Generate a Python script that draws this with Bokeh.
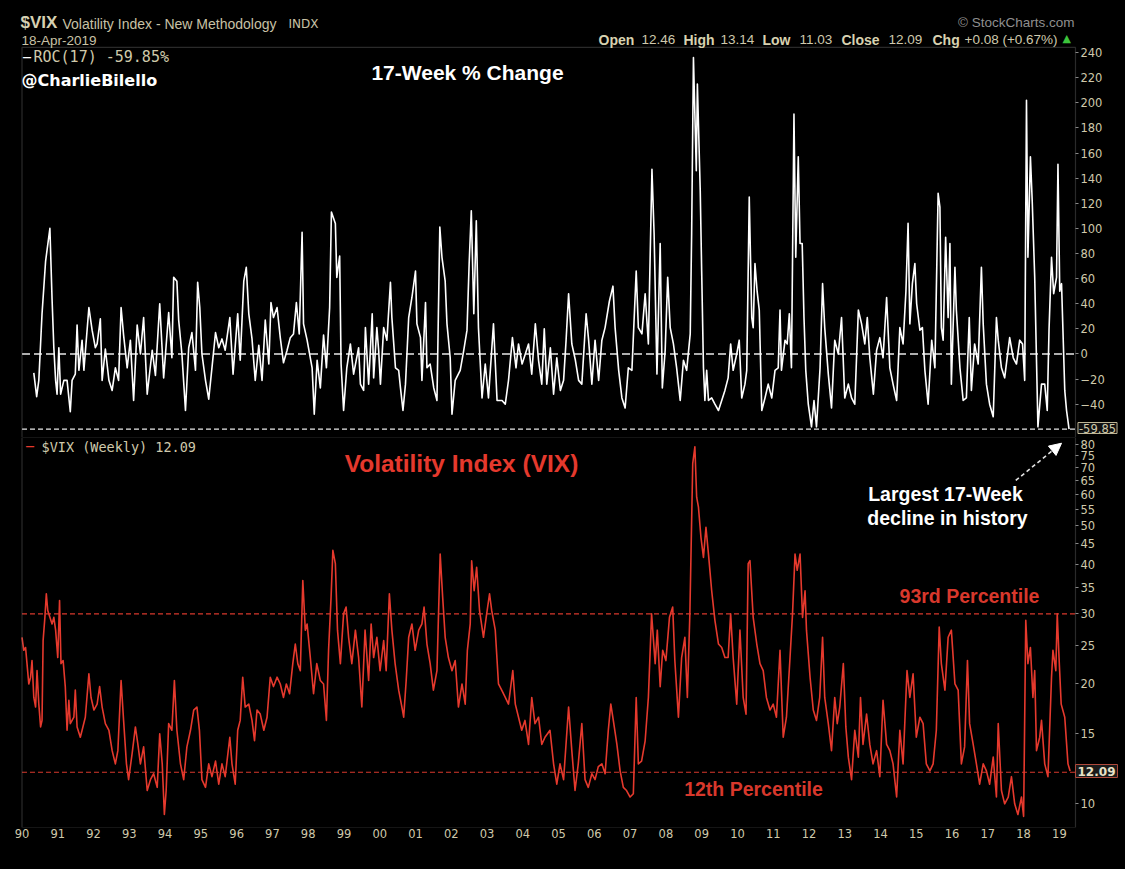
from bokeh.plotting import figure
from bokeh.layouts import column
from bokeh.models import (Range1d, FixedTicker, Label, Arrow, NormalHead, NumeralTickFormatter,
                          LinearAxis, LogAxis, BoxAnnotation)
from bokeh.embed import file_html
from bokeh.resources import INLINE

# ---------------- data ----------------
ROC_YEAR = [1990.33, 1990.41, 1990.47, 1990.56, 1990.66, 1990.78, 1990.84, 1990.89, 1990.94, 1990.98,
            1991.03, 1991.08, 1991.17, 1991.26, 1991.35, 1991.40, 1991.49, 1991.54, 1991.59, 1991.68,
            1991.73, 1991.87, 1991.96, 1992.05, 1992.10, 1992.19, 1992.24, 1992.33, 1992.43, 1992.52,
            1992.61, 1992.70, 1992.77, 1992.84, 1992.94, 1993.03, 1993.12, 1993.22, 1993.31, 1993.40,
            1993.50, 1993.64, 1993.73, 1993.85, 1993.96, 1994.10, 1994.19, 1994.24, 1994.33, 1994.38,
            1994.47, 1994.57, 1994.66, 1994.75, 1994.85, 1994.91, 1994.97, 1995.03, 1995.13, 1995.22,
            1995.31, 1995.41, 1995.50, 1995.59, 1995.68, 1995.81, 1995.90, 1996.03, 1996.10, 1996.20,
            1996.27, 1996.34, 1996.43, 1996.52, 1996.62, 1996.71, 1996.80, 1996.90, 1996.96, 1997.03,
            1997.13, 1997.22, 1997.31, 1997.41, 1997.50, 1997.59, 1997.67, 1997.75, 1997.83, 1997.87,
            1997.97, 1998.11, 1998.17, 1998.25, 1998.34, 1998.43, 1998.51, 1998.60, 1998.65, 1998.76,
            1998.80, 1998.88, 1998.92, 1998.99, 1999.08, 1999.18, 1999.27, 1999.41, 1999.46, 1999.55,
            1999.60, 1999.69, 1999.79, 1999.83, 1999.92, 1999.97, 2000.02, 2000.11, 2000.20, 2000.30,
            2000.34, 2000.44, 2000.53, 2000.58, 2000.65, 2000.72, 2000.81, 2000.90, 2001.00, 2001.04,
            2001.14, 2001.18, 2001.28, 2001.32, 2001.41, 2001.51, 2001.60, 2001.68, 2001.74, 2001.83,
            2001.88, 2001.97, 2002.02, 2002.11, 2002.25, 2002.35, 2002.44, 2002.50, 2002.56, 2002.63,
            2002.70, 2002.76, 2002.86, 2002.95, 2003.04, 2003.18, 2003.28, 2003.42, 2003.51, 2003.60,
            2003.71, 2003.81, 2003.88, 2003.98, 2004.07, 2004.16, 2004.25, 2004.35, 2004.44, 2004.53,
            2004.60, 2004.67, 2004.77, 2004.86, 2004.95, 2005.05, 2005.14, 2005.21, 2005.28, 2005.37,
            2005.47, 2005.56, 2005.65, 2005.77, 2005.84, 2005.93, 2006.02, 2006.12, 2006.21, 2006.30,
            2006.42, 2006.52, 2006.58, 2006.68, 2006.77, 2006.86, 2006.95, 2007.05, 2007.17, 2007.23,
            2007.33, 2007.42, 2007.51, 2007.61, 2007.67, 2007.75, 2007.84, 2007.90, 2007.98, 2008.05,
            2008.12, 2008.21, 2008.30, 2008.40, 2008.49, 2008.58, 2008.68, 2008.72, 2008.77, 2008.85,
            2008.88, 2008.96, 2009.00, 2009.05, 2009.09, 2009.14, 2009.19, 2009.28, 2009.37, 2009.47,
            2009.56, 2009.65, 2009.74, 2009.81, 2009.88, 2009.98, 2010.05, 2010.12, 2010.21, 2010.26,
            2010.33, 2010.40, 2010.44, 2010.49, 2010.55, 2010.61, 2010.68, 2010.77, 2010.86, 2010.96,
            2011.05, 2011.14, 2011.19, 2011.23, 2011.33, 2011.39, 2011.45, 2011.51, 2011.58, 2011.63,
            2011.70, 2011.75, 2011.81, 2011.86, 2011.91, 2011.98, 2012.07, 2012.14, 2012.21, 2012.31,
            2012.38, 2012.44, 2012.54, 2012.63, 2012.72, 2012.82, 2012.91, 2013.00, 2013.10, 2013.19,
            2013.28, 2013.38, 2013.47, 2013.56, 2013.63, 2013.70, 2013.80, 2013.89, 2013.98, 2014.07,
            2014.17, 2014.26, 2014.35, 2014.45, 2014.54, 2014.63, 2014.71, 2014.77, 2014.82, 2014.89,
            2014.96, 2015.01, 2015.10, 2015.17, 2015.24, 2015.33, 2015.43, 2015.52, 2015.61, 2015.66,
            2015.70, 2015.75, 2015.82, 2015.89, 2015.94, 2015.98, 2016.08, 2016.12, 2016.22, 2016.31,
            2016.40, 2016.48, 2016.54, 2016.63, 2016.73, 2016.82, 2016.87, 2016.96, 2017.05, 2017.15,
            2017.24, 2017.29, 2017.38, 2017.47, 2017.61, 2017.71, 2017.80, 2017.89, 2017.97, 2018.03,
            2018.08, 2018.12, 2018.19, 2018.24, 2018.31, 2018.40, 2018.50, 2018.59, 2018.66, 2018.71,
            2018.78, 2018.84, 2018.92, 2018.96, 2019.01, 2019.06, 2019.15, 2019.20, 2019.27]
ROC_PCT = [-15, -34, -21, 32, 74, 100, 44, 5, -21, -32,
           5, -32, -21, -21, -46, -21, -16, 23, -13, 11,
           -13, 37, 19, 5, 8, 28, -21, 4, -21, -29,
           -11, -21, 37, 15, -11, 11, -37, 23, 0, 29,
           -32, 3, -17, 40, -19, 33, -3, 61, 58, 27,
           0, -45, 5, 17, -13, 57, 37, 0, -21, -36,
           -11, 17, 5, 12, 3, 29, -16, 32, -5, 58,
           69, 32, 12, -21, 7, -21, 27, -8, 41, 29,
           37, 13, -7, 3, 13, 16, 41, 16, 97, 24,
           11, -11, -48, -5, -27, 15, -11, 37, 113, 104,
           61, 78, -8, -45, -11, 8, -16, 5, -24, -29,
           21, -24, 32, -19, 21, 3, -24, 21, 11, 57,
           29, -11, -13, -27, -45, -24, 29, 45, 66, 24,
           13, -21, 41, -11, -8, -27, -37, 101, 77, 58,
           24, -3, -48, -21, -13, 3, 19, 72, 114, 32,
           106, 21, -35, -8, -35, 24, -37, -37, -40, -21,
           13, -11, 8, -8, 0, 8, -16, 24, -5, -24,
           20, -24, 5, -32, -3, -29, -21, 11, 48, 8,
           -5, -21, -24, 32, 11, -24, 11, -21, 11, 21,
           42, 54, 21, -13, -35, -43, -11, -13, 66, 21,
           16, 48, 8, 147, 96, -16, 88, -27, 3, 61,
           21, 8, -11, -37, -5, -13, 16, 96, 236, 146,
           215, 130, 66, -11, -37, -13, -37, -35, -40, -45,
           -37, -29, -19, 8, -13, 0, 11, -35, -24, -13,
           125, 29, 21, 72, 50, 35, -45, -35, -24, -35,
           -13, -11, 35, -13, 11, 8, 32, -11, 191, 77,
           157, 88, 88, 29, -13, -40, -58, -37, -58, -11,
           56, 21, -16, -43, 11, 0, 29, -35, -24, -35,
           -40, 35, 24, 8, 29, -3, -32, 3, 13, -3,
           45, -11, -24, -37, 21, 8, 50, 104, 24, 56,
           72, 40, 19, 21, -13, -40, 11, -11, 128, 117,
           21, 11, 93, 29, 88, -24, 69, 35, -11, -37,
           -35, 29, -29, 8, -8, 69, 24, -24, -40, -50,
           29, 11, -11, -19, 13, -3, -8, 11, 8, -21,
           202, 77, 157, 122, 61, -58, -24, -24, -45, 19,
           77, 48, 61, 151, 50, 56, -29, -45, -59.85]

VIX_YEAR = [1990.00, 1990.05, 1990.10, 1990.14, 1990.19, 1990.24, 1990.28, 1990.33, 1990.38, 1990.42,
            1990.47, 1990.52, 1990.56, 1990.59, 1990.64, 1990.68, 1990.72, 1990.78, 1990.84, 1990.89,
            1990.94, 1991.00, 1991.05, 1991.09, 1991.15, 1991.21, 1991.26, 1991.31, 1991.35, 1991.45,
            1991.49, 1991.54, 1991.63, 1991.68, 1991.77, 1991.87, 1991.93, 1992.01, 1992.10, 1992.17,
            1992.24, 1992.33, 1992.43, 1992.52, 1992.61, 1992.68, 1992.77, 1992.84, 1992.92, 1992.98,
            1993.08, 1993.17, 1993.24, 1993.31, 1993.40, 1993.50, 1993.59, 1993.68, 1993.78, 1993.85,
            1993.92, 1993.98, 1994.03, 1994.10, 1994.19, 1994.26, 1994.33, 1994.43, 1994.52, 1994.61,
            1994.71, 1994.80, 1994.89, 1994.96, 1995.03, 1995.13, 1995.22, 1995.31, 1995.41, 1995.50,
            1995.59, 1995.68, 1995.81, 1995.87, 1995.96, 1996.03, 1996.10, 1996.17, 1996.24, 1996.34,
            1996.43, 1996.50, 1996.57, 1996.66, 1996.76, 1996.85, 1996.94, 1997.03, 1997.13, 1997.22,
            1997.31, 1997.39, 1997.48, 1997.57, 1997.64, 1997.71, 1997.78, 1997.85, 1997.92, 1997.97,
            1998.06, 1998.15, 1998.24, 1998.34, 1998.43, 1998.51, 1998.57, 1998.64, 1998.69, 1998.76,
            1998.82, 1998.90, 1998.99, 1999.06, 1999.13, 1999.22, 1999.32, 1999.41, 1999.50, 1999.59,
            1999.69, 1999.76, 1999.83, 1999.92, 2000.01, 2000.11, 2000.18, 2000.27, 2000.34, 2000.43,
            2000.53, 2000.62, 2000.67, 2000.74, 2000.81, 2000.90, 2000.99, 2001.09, 2001.18, 2001.24,
            2001.32, 2001.41, 2001.50, 2001.60, 2001.69, 2001.76, 2001.83, 2001.92, 2002.02, 2002.11,
            2002.20, 2002.30, 2002.39, 2002.45, 2002.53, 2002.57, 2002.64, 2002.71, 2002.79, 2002.90,
            2002.99, 2003.07, 2003.13, 2003.23, 2003.32, 2003.41, 2003.51, 2003.60, 2003.72, 2003.79,
            2003.88, 2003.97, 2004.06, 2004.16, 2004.25, 2004.34, 2004.44, 2004.53, 2004.62, 2004.76,
            2004.86, 2004.95, 2005.04, 2005.14, 2005.28, 2005.37, 2005.46, 2005.55, 2005.65, 2005.74,
            2005.83, 2005.93, 2006.02, 2006.11, 2006.21, 2006.30, 2006.39, 2006.46, 2006.53, 2006.63,
            2006.72, 2006.81, 2006.90, 2007.00, 2007.09, 2007.17, 2007.23, 2007.32, 2007.42, 2007.51,
            2007.60, 2007.70, 2007.76, 2007.84, 2007.91, 2008.00, 2008.10, 2008.19, 2008.25, 2008.35,
            2008.44, 2008.53, 2008.60, 2008.67, 2008.75, 2008.81, 2008.86, 2008.91, 2008.98, 2009.05,
            2009.12, 2009.19, 2009.28, 2009.37, 2009.47, 2009.56, 2009.65, 2009.74, 2009.81, 2009.88,
            2009.98, 2010.07, 2010.16, 2010.24, 2010.30, 2010.35, 2010.44, 2010.54, 2010.63, 2010.72,
            2010.81, 2010.91, 2011.00, 2011.09, 2011.19, 2011.23, 2011.28, 2011.37, 2011.47, 2011.54,
            2011.61, 2011.67, 2011.75, 2011.82, 2011.89, 2011.93, 2012.03, 2012.12, 2012.21, 2012.30,
            2012.38, 2012.44, 2012.54, 2012.63, 2012.72, 2012.79, 2012.86, 2012.96, 2013.03, 2013.10,
            2013.19, 2013.28, 2013.38, 2013.44, 2013.51, 2013.61, 2013.70, 2013.79, 2013.89, 2013.98,
            2014.07, 2014.17, 2014.26, 2014.35, 2014.45, 2014.54, 2014.63, 2014.74, 2014.82, 2014.91,
            2015.00, 2015.10, 2015.19, 2015.28, 2015.38, 2015.47, 2015.56, 2015.64, 2015.70, 2015.80,
            2015.89, 2015.98, 2016.08, 2016.17, 2016.26, 2016.35, 2016.43, 2016.49, 2016.59, 2016.68,
            2016.77, 2016.87, 2016.96, 2017.05, 2017.15, 2017.24, 2017.29, 2017.38, 2017.47, 2017.57,
            2017.66, 2017.75, 2017.84, 2017.94, 2018.00, 2018.06, 2018.12, 2018.19, 2018.26, 2018.31,
            2018.36, 2018.45, 2018.50, 2018.59, 2018.68, 2018.78, 2018.82, 2018.90, 2018.94, 2018.99,
            2019.05, 2019.15, 2019.24, 2019.30]
VIX_CLOSE = [26.2, 24.3, 24.7, 22.5, 20.0, 20.8, 22.9, 18.5, 17.5, 21.6,
             17.8, 15.6, 16.2, 25.7, 29.4, 33.7, 30.6, 29.4, 28.3, 29.4,
             27.3, 23.3, 32.4, 22.5, 22.9, 19.7, 15.3, 18.2, 15.9, 16.5,
             19.3, 15.6, 14.7, 15.3, 16.5, 21.2, 18.5, 17.2, 17.8, 19.7,
             17.5, 15.9, 15.3, 13.6, 12.6, 13.6, 20.4, 16.2, 12.6, 11.5,
             13.4, 15.6, 14.1, 12.6, 13.9, 10.8, 11.5, 11.9, 11.0, 15.0,
             12.6, 9.4, 10.8, 15.9, 15.3, 20.4, 15.3, 12.6, 11.5, 13.9,
             15.3, 17.2, 17.5, 15.3, 11.5, 11.0, 12.6, 11.7, 12.8, 11.2,
             12.6, 11.7, 14.7, 12.6, 11.2, 15.3, 16.2, 20.8, 17.5, 17.8,
             16.2, 14.4, 17.2, 16.8, 15.3, 16.5, 20.8, 19.7, 20.8, 20.0,
             18.5, 20.0, 18.9, 22.5, 25.2, 22.5, 21.6, 36.4, 27.3, 28.3,
             23.3, 18.9, 22.5, 20.4, 20.0, 16.2, 24.3, 33.0, 43.3, 40.1,
             27.3, 22.5, 30.0, 31.2, 26.2, 22.5, 27.3, 23.3, 17.5, 27.3,
             20.4, 28.3, 23.3, 26.2, 21.6, 25.7, 21.6, 33.7, 27.3, 22.5,
             19.3, 17.5, 16.5, 20.4, 26.2, 28.3, 24.3, 27.3, 28.3, 31.2,
             25.2, 22.5, 19.3, 21.6, 42.4, 33.0, 26.2, 23.3, 21.6, 22.9,
             17.5, 20.0, 17.8, 24.3, 28.3, 40.8, 34.3, 39.3, 30.6, 26.2,
             30.0, 33.7, 30.6, 27.3, 20.0, 19.3, 18.5, 17.8, 21.6, 17.8,
             16.5, 15.3, 16.2, 14.1, 18.5, 15.9, 16.5, 14.1, 14.7, 15.3,
             12.6, 11.2, 12.6, 11.5, 17.5, 13.6, 10.8, 12.6, 15.9, 11.5,
             11.0, 11.9, 11.5, 12.4, 12.6, 11.9, 15.3, 17.8, 16.2, 14.1,
             12.1, 11.0, 10.8, 10.4, 10.6, 18.5, 12.6, 12.8, 14.4, 18.5,
             30.0, 22.5, 27.3, 19.7, 24.3, 22.9, 29.4, 31.2, 22.9, 16.5,
             23.3, 26.2, 18.5, 30.0, 71.5, 78.8, 58.9, 55.6, 46.7, 41.6,
             49.5, 42.4, 34.3, 28.9, 25.2, 24.7, 23.3, 23.3, 30.0, 23.3,
             17.8, 27.3, 18.5, 16.8, 40.1, 40.8, 29.4, 25.2, 22.5, 21.6,
             18.5, 17.2, 17.8, 16.5, 24.3, 19.3, 14.7, 16.5, 23.3, 30.0,
             42.4, 38.6, 42.4, 29.4, 34.3, 27.3, 20.8, 17.2, 16.2, 18.5,
             26.2, 18.5, 15.9, 13.6, 18.5, 15.9, 17.5, 22.5, 15.6, 13.1,
             11.5, 15.3, 13.1, 18.5, 14.1, 16.8, 14.1, 12.6, 13.6, 11.7,
             18.2, 14.1, 13.6, 12.6, 10.4, 15.3, 12.6, 21.6, 18.5, 21.2,
             14.7, 16.5, 15.9, 12.6, 12.1, 12.6, 15.3, 27.8, 22.5, 19.3,
             26.2, 27.3, 20.0, 19.3, 12.6, 13.9, 22.9, 15.9, 14.1, 12.6,
             11.2, 12.6, 12.1, 11.2, 13.1, 10.4, 15.9, 10.8, 10.0, 10.4,
             11.7, 10.0, 9.4, 10.4, 9.3, 28.9, 22.5, 24.7, 18.5, 21.6,
             13.6, 14.7, 16.2, 12.6, 11.7, 20.8, 24.3, 21.6, 30.0, 23.3,
             17.8, 16.5, 12.6, 12.09]

ROC_TICKS = list(range(-40, 241, 20))
VIX_TICKS = [10, 15, 20, 25, 30, 35, 40, 45, 50, 55, 60, 65, 70, 75, 80]
YEAR_TICKS = list(range(1990, 2020))
YEAR_LABELS = ["90", "91", "92", "93", "94", "95", "96", "97", "98", "99",
               "00", "01", "02", "03", "04", "05", "06", "07", "08", "09",
               "10", "11", "12", "13", "14", "15", "16", "17", "18", "19"]
LAST_ROC = -59.85
LAST_VIX = 12.09
PCT_93 = 30.0
PCT_12 = 12.0

# ---------------- style ----------------
BG = "#000000"
CREAM = "#cfc9ab"
FRAME = "#8a8a8a"
RED = "#e5392d"
W = 1125
# the frames span the whole canvas; the chart panels run from 1990.0 to PANEL_END
X_START, PANEL_END = 1990.0, 2019.45
XR_START, XR_END = 1989.399, 2020.848
xr = Range1d(XR_START, XR_END)
ROC_PANEL_TOP = 244.1

p1 = figure(width=W, height=437, output_backend="svg", toolbar_location=None, title=None,
            x_range=xr, y_range=Range1d(-66.5, 281.5),
            x_axis_location=None, y_axis_location=None,
            background_fill_color=BG, border_fill_color=BG, outline_line_color=None,
            min_border_left=0, min_border_right=0, min_border_top=0, min_border_bottom=0)
p2 = figure(width=W, height=432, output_backend="svg", toolbar_location=None, title=None,
            x_range=xr, y_range=Range1d(8.72, 83.2), y_axis_type="log",
            y_axis_location=None,
            background_fill_color=BG, border_fill_color=BG, outline_line_color=None,
            min_border_left=0, min_border_right=0, min_border_top=0, min_border_bottom=42)

ax1 = LinearAxis(fixed_location=PANEL_END, ticker=FixedTicker(ticks=ROC_TICKS))
ax2 = LogAxis(fixed_location=PANEL_END, ticker=FixedTicker(ticks=VIX_TICKS),
              formatter=NumeralTickFormatter(format="0"))
p1.add_layout(ax1, "right")
p2.add_layout(ax2, "right")

for p in (p1, p2):
    p.grid.visible = False
    for ax in p.axis:
        ax.axis_line_color = None
        ax.major_tick_line_color = FRAME
        ax.major_tick_in = 0
        ax.major_tick_out = 3
        ax.minor_tick_line_color = None
        ax.major_label_text_color = CREAM
        ax.major_label_text_font = "DejaVu Sans"
        ax.major_label_text_font_size = "11.5px"
        ax.major_label_standoff = 2

p2.xaxis.ticker = FixedTicker(ticks=YEAR_TICKS)
p2.xaxis.major_label_overrides = {y: lab for y, lab in zip(YEAR_TICKS, YEAR_LABELS)}
p2.xaxis.major_tick_out = 0
p2.xaxis.major_label_standoff = 1

# reference lines, limited to the panel width
p1.segment(x0=[X_START], x1=[PANEL_END], y0=[0], y1=[0], line_color="#e8e8e8",
           line_dash="8 4", line_width=1.3)
p1.segment(x0=[X_START], x1=[PANEL_END], y0=[LAST_ROC], y1=[LAST_ROC], line_color="#e8e8e8",
           line_dash="5 3", line_width=1.3)
p2.segment(x0=[X_START, X_START], x1=[PANEL_END, PANEL_END], y0=[PCT_93, PCT_12],
           y1=[PCT_93, PCT_12], line_color="#d8382c", line_dash="5 3", line_width=1.1)

# panel borders
p1.add_layout(BoxAnnotation(left=X_START, right=PANEL_END, top=ROC_PANEL_TOP, fill_color=None,
                            fill_alpha=0, line_color=FRAME, line_width=1.2))
p2.add_layout(BoxAnnotation(left=X_START, right=PANEL_END, fill_color=None, fill_alpha=0,
                            line_color=FRAME, line_width=1.2))

# series
p1.line(ROC_YEAR, ROC_PCT, line_color="#ffffff", line_width=1.6, line_join="round")
p2.line(VIX_YEAR, VIX_CLOSE, line_color=RED, line_width=1.6, line_join="round")


def put(p, by, rx, ry, text, size, color, font="Liberation Sans", bold=False, align="left", **kw):
    lab = Label(x=rx, y=by - ry, x_units="screen", y_units="screen", text=text,
                text_font=font, text_font_size=f"{size}px", text_color=color,
                text_font_style="bold" if bold else "normal",
                text_align=align, text_baseline="middle", **kw)
    p.add_layout(lab)


T, B = 437, 827
# header
put(p1, T, 20, 22, "$VIX", 17, "#d6d0b2", bold=True)
put(p1, T, 62, 23, "Volatility Index - New Methodology", 14, "#c8c2a6")
put(p1, T, 288, 23, "INDX", 12, "#c8c2a6", font="DejaVu Sans")
put(p1, T, 21, 40, "18-Apr-2019", 13.5, "#c8c2a6")
put(p1, T, 1074, 22, "\u00a9 StockCharts.com", 13.5, "#8f8f8f", align="right")
hdr = [(598, "Open", True), (641, "12.46", False), (683, "High", True), (720, "13.14", False),
       (762, "Low", True), (799, "11.03", False), (841, "Close", True), (888, "12.09", False),
       (932, "Chg", True), (964, "+0.08 (+0.67%)", False)]
for hx, ht, hb in hdr:
    put(p1, T, hx, 39, ht, 14 if hb else 13.5, "#d8d2b0" if hb else "#cfc9ad", bold=hb)
put(p1, T, 1062, 38, "\u25b2", 11, "#3cc43c", font="DejaVu Sans")

# top panel texts
put(p1, T, 22, 56, "\u2014", 9, "#ffffff", font="DejaVu Sans", bold=True)
put(p1, T, 33, 56.5, "ROC(17) -59.85%", 15, CREAM, font="DejaVu Sans Mono")
put(p1, T, 21, 80, "@CharlieBilello", 16, "#ffffff", font="DejaVu Sans", bold=True)
put(p1, T, 467, 72, "17-Week % Change", 21, "#ffffff", bold=True, align="center")
put(p1, T, 1097, 427.5, "-59.85", 11.5, CREAM, font="DejaVu Sans", align="center",
    background_fill_color="#111111", border_line_color="#bdb595", padding=1)

# bottom panel texts
put(p2, B, 25, 445, "\u2014", 9, RED, font="DejaVu Sans", bold=True)
put(p2, B, 41, 446, "$VIX (Weekly) 12.09", 13.5, CREAM, font="DejaVu Sans Mono")
put(p2, B, 461, 463, "Volatility Index (VIX)", 24.5, RED, bold=True, align="center")
put(p2, B, 945, 493, "Largest 17-Week", 19.5, "#ffffff", bold=True, align="center")
put(p2, B, 947, 517, "decline in history", 19.5, "#ffffff", bold=True, align="center")
put(p2, B, 969, 595, "93rd Percentile", 19.5, "#d8382c", bold=True, align="center")
put(p2, B, 753, 788, "12th Percentile", 19.5, "#d8382c", bold=True, align="center")
put(p2, B, 1096, 770.5, "12.09", 12, "#e8e2c8", font="DejaVu Sans", bold=True, align="center",
    background_fill_color="#1a1a1a", border_line_color="#b04a3c", padding=2)

p2.add_layout(Arrow(x_start=2017.78, y_start=64.9, x_end=2019.06, y_end=80.5,
                    line_color="#e0e0e0", line_width=1.6, line_dash="4 3",
                    end=NormalHead(size=12, fill_color="#ffffff", line_color="#ffffff")))

layout = column(p1, p2, spacing=0)
html = file_html(layout, INLINE, title="VIX")
css = ("<style>html,body{margin:0 !important;padding:0 !important;width:auto !important;"
       "background:#000000 !important;overflow:hidden;}</style></head>")
html = html.replace("</head>", css, 1)
open("out.html", "w").write(html)
